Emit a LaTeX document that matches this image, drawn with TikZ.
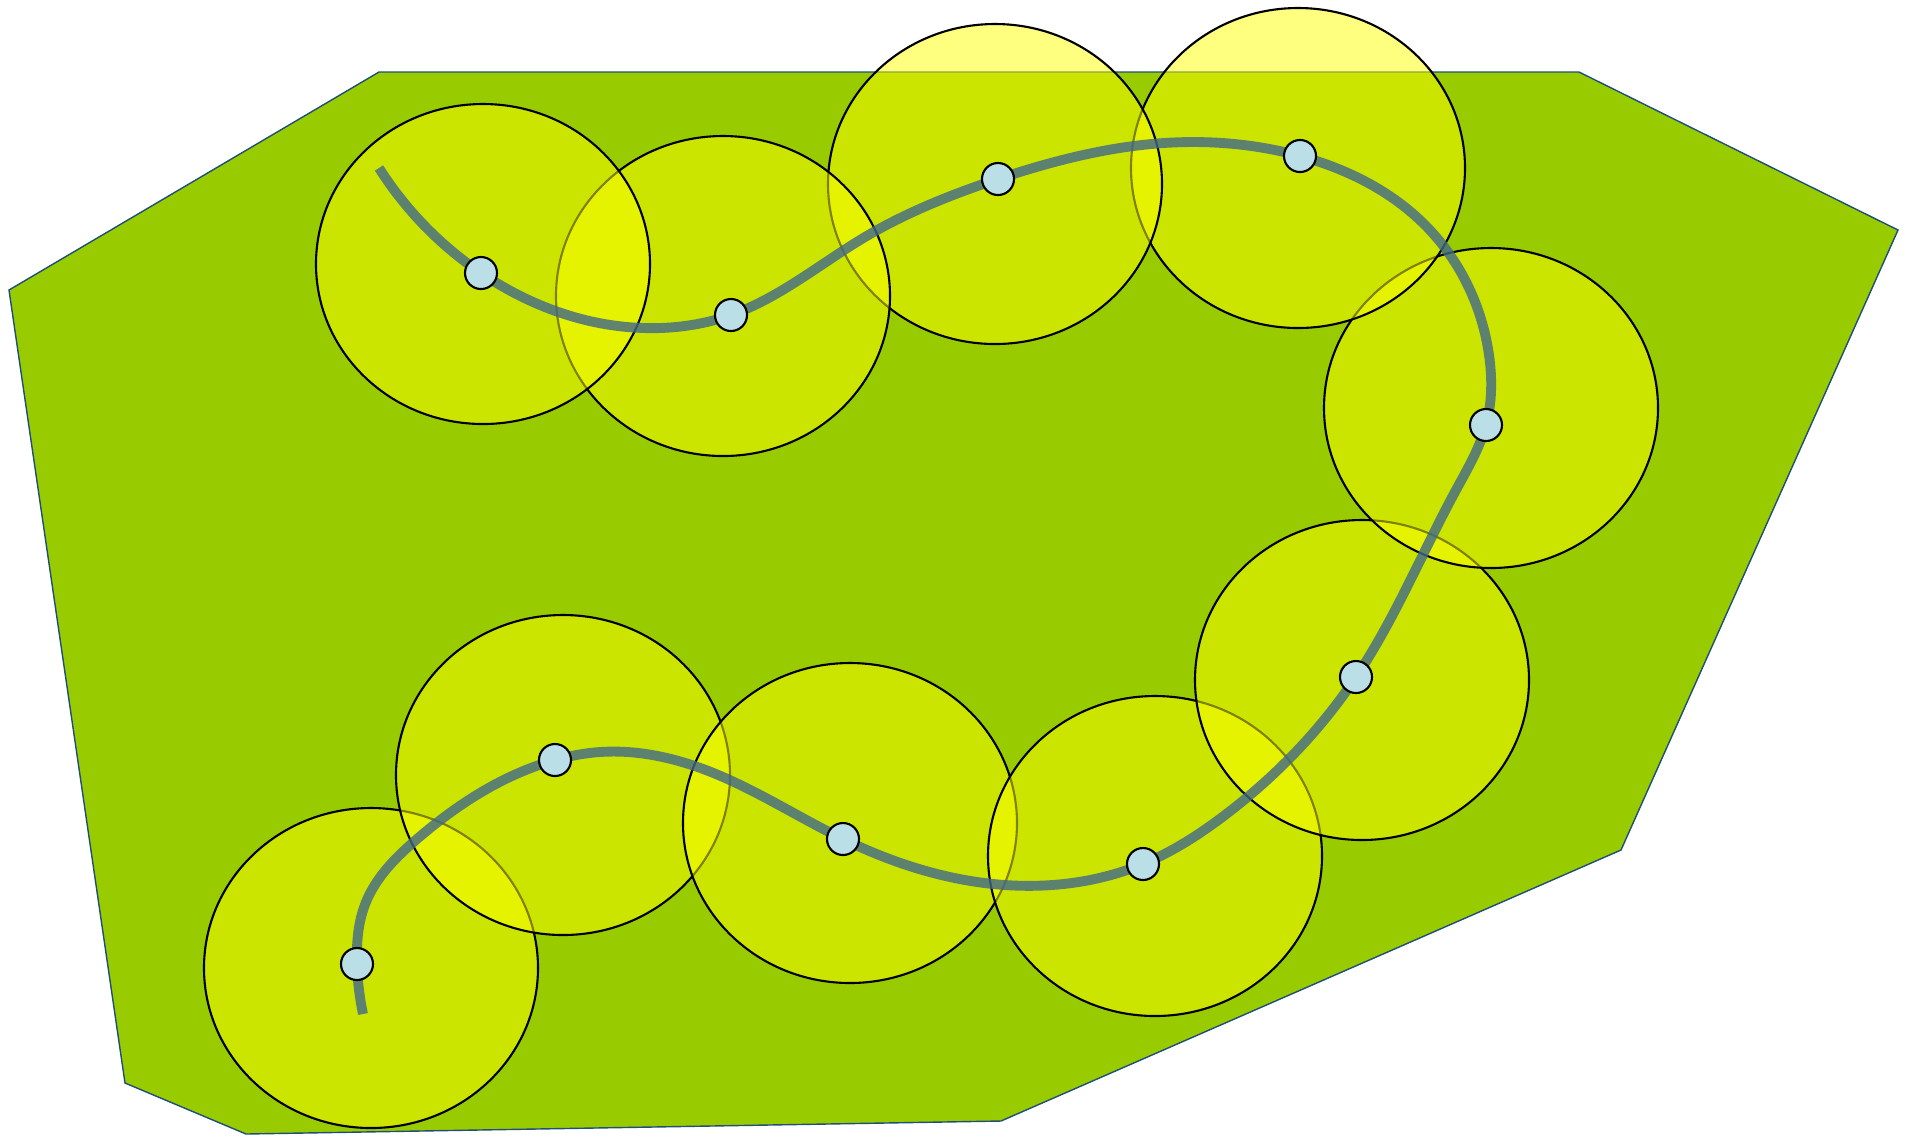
\documentclass[tikz,border=0pt]{standalone}
\usetikzlibrary{positioning, hobby}
\definecolor{fieldgreen}{HTML}{99CC00}
\definecolor{edgeblue}{HTML}{1F4E79}
\definecolor{zoneyellow}{HTML}{FFFF00}
\definecolor{trackgray}{HTML}{41688A}
\definecolor{stopblue}{HTML}{BBDFE6}
\begin{document}
\begin{tikzpicture}[x=0.01cm, y=-0.01cm,
  zone/.style={draw=black, line width=0.6pt, fill=zoneyellow, fill opacity=0.5},
  stop/.style={circle, draw=black, line width=0.6pt, fill=stopblue, minimum size=0.32cm, inner sep=0pt}]
  \useasboundingbox (0,0) rectangle (1921,1138);
  % Field
  \draw[edgeblue, line width=0.4pt, fill=fieldgreen]
    (379,72) -- (1579,72) -- (1898,230) -- (1621,850) -- (1001,1121)
    -- (246,1134) -- (125,1083) -- (9,290) -- cycle;
  % Coverage zones
  \foreach \cx/\cy in {371/968, 563/775, 850/823, 1155/856, 1362/680,
                       1491/408, 1298/168, 995/184, 723/296, 483/264}
    \draw[zone] (\cx,\cy) ellipse [x radius=167, y radius=160];
  % Track
  \foreach \n/\px/\py in {1/481/273, 2/731/315, 3/998/179, 4/1300/156, 5/1486/425,
                          6/1356/677, 7/1143/864, 8/843/839, 9/555/760, 10/357/964}
    \coordinate (s\n) at (\px,\py);
  \draw[trackgray, line width=2.8pt, opacity=0.8, use Hobby shortcut]
    (379,168) .. (s1) .. (660,328) .. (s2) .. (865,237) .. (s3) .. (1164,143) .. (s4)
    .. (1427,227) .. (1489,355) .. (s5) .. (1456,490) .. (s6) .. (1225,815) .. (s7)
    .. (1005,885) .. (s8) .. (711,772) .. (600,752) .. (s9) .. (417,839) .. (366,902)
    .. (s10) .. (363,1014);
  % Stops
  \foreach \n in {1,...,10}
    \node[stop] (stop\n) at (s\n) {};
\end{tikzpicture}
\end{document}
